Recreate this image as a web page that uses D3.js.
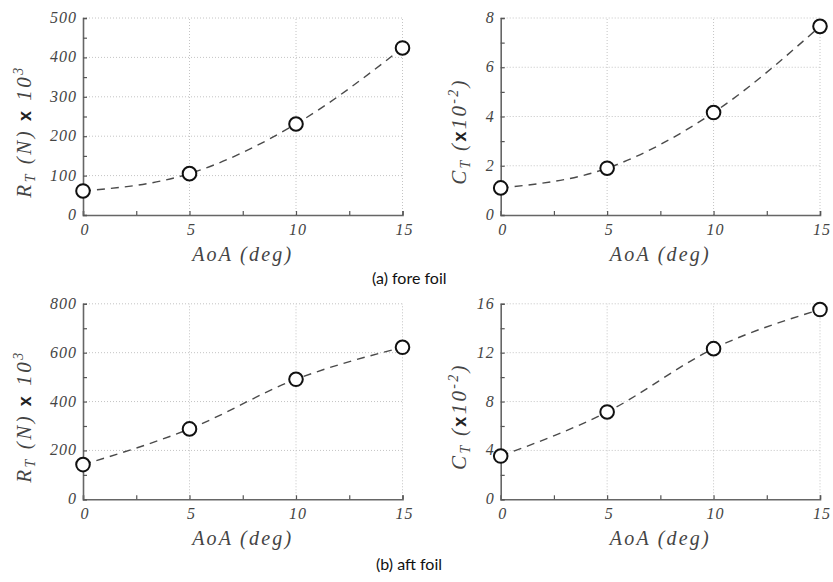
<!DOCTYPE html>
<html>
<head>
<meta charset="utf-8">
<script src="https://cdn.jsdelivr.net/npm/d3@7"></script>
<style>
  html, body { margin: 0; padding: 0; background: #fff; }
  svg { display: block; }
</style>
</head>
<body>
<svg id="chart" width="833" height="582"></svg>
<script>
// ---- data ----
const aoa = [0, 5, 10, 15];
const foreRT = [61, 105, 231, 424];
const foreCT = [1.1, 1.9, 4.16, 7.66];
const aftRT = [142, 288, 491, 622];
const aftCT = [3.54, 7.15, 12.33, 15.53];

const xTicks = [0, 5, 10, 15];
const xMinor = [2.5, 7.5, 12.5];
const rtForeTicks = [0, 100, 200, 300, 400, 500];
const ctForeTicks = [0, 2, 4, 6, 8];
const rtAftTicks = [0, 200, 400, 600, 800];
const ctAftTicks = [0, 4, 8, 12, 16];
const captions = ["(a) fore foil", "(b) aft foil"];

const svg = d3.select("#chart");
const SERIF = "Liberation Serif";

function serifText(sel, size, ls) {
  return sel.attr("font-family", SERIF).attr("font-style", "italic")
    .attr("font-size", size).attr("letter-spacing", ls);
}

function panel(cfg) {
  const x = d3.scaleLinear().domain([0, 15]).range([cfg.x0, cfg.x1]);
  const yMax = cfg.yTicks[cfg.yTicks.length - 1];
  const y = d3.scaleLinear().domain([0, yMax]).range([cfg.y0, cfg.y1]);
  const step = cfg.yTicks[1] - cfg.yTicks[0];
  const yMinor = cfg.yTicks.slice(0, -1).map(v => v + step / 2);
  const g = svg.append("g");

  // grid (dotted)
  g.selectAll(".gx").data(xTicks.filter(v => v > 0)).join("line")
    .attr("x1", d => x(d)).attr("x2", d => x(d))
    .attr("y1", y(0)).attr("y2", y(yMax))
    .attr("stroke", "#c4c4c4").attr("stroke-width", 1).attr("stroke-dasharray", "1,2");
  g.selectAll(".gy").data(cfg.yTicks.filter(v => v > 0)).join("line")
    .attr("y1", d => y(d)).attr("y2", d => y(d))
    .attr("x1", x(0)).attr("x2", x(15))
    .attr("stroke", "#c4c4c4").attr("stroke-width", 1).attr("stroke-dasharray", "1,2");

  // axes with inward ticks
  const ax = g.append("g").attr("transform", `translate(0,${y(0)})`)
    .call(d3.axisTop(x).tickValues(xTicks.concat(xMinor)).tickSize(4).tickFormat(""));
  const ay = g.append("g").attr("transform", `translate(${x(0)},0)`)
    .call(d3.axisRight(y).tickValues(cfg.yTicks.concat(yMinor)).tickSize(4).tickFormat(""));
  [ax, ay].forEach(a => {
    a.select(".domain").attr("stroke", "#666").attr("stroke-width", 1.6);
    a.selectAll(".tick line").attr("stroke", "#555").attr("stroke-width", 1.2);
  });

  // tick labels
  serifText(g.selectAll(".xl").data(xTicks).join("text"), 16, 1)
    .attr("x", d => x(d) + 2).attr("y", y(0) + 20)
    .attr("text-anchor", "middle")
    .attr("fill", "#444").text(d => d);
  serifText(g.selectAll(".yl").data(cfg.yTicks).join("text"), 16, 1)
    .attr("x", x(0) - 6).attr("y", d => y(d) + 5)
    .attr("text-anchor", "end")
    .attr("fill", "#444").text(d => d);

  // x label
  serifText(g.append("text"), 20, 2.2)
    .attr("x", (cfg.x0 + cfg.x1) / 2).attr("y", y(0) + 46)
    .attr("text-anchor", "middle")
    .attr("fill", "#444").text("AoA (deg)");

  // y label (rotated)
  const yl = serifText(g.append("text"), 21, cfg.ls)
    .attr("transform", `translate(${cfg.labelX},${(cfg.y0 + cfg.y1) / 2 + 15}) rotate(-90)`)
    .attr("text-anchor", "middle")
    .attr("fill", "#444");
  cfg.label.forEach(p => {
    const t = yl.append("tspan").text(p.t);
    if (p.dy) t.attr("dy", p.dy);
    if (p.size) t.attr("font-size", p.size);
    if (p.bold) t.attr("font-family", "Liberation Sans").attr("font-weight", "bold")
      .attr("font-style", "normal").attr("fill", "#222");
  });

  // dashed curve
  const pts = aoa.map((a, i) => [x(a), y(cfg.values[i])]);
  g.append("path")
    .attr("d", d3.line().curve(d3.curveMonotoneX)(pts))
    .attr("fill", "none").attr("stroke", "#4a4a4a").attr("stroke-width", 1.4)
    .attr("stroke-dasharray", "8,6");

  // markers
  g.selectAll(".m").data(pts).join("circle")
    .attr("cx", d => d[0]).attr("cy", d => d[1]).attr("r", 6.8)
    .attr("fill", "#fff").attr("stroke", "#111").attr("stroke-width", 2);
}

const rtLabel = [
  { t: "R" }, { t: "T", size: 14, dy: 4 }, { t: " (N) ", dy: -4 },
  { t: "x", bold: true, size: 18 }, { t: " 10" }, { t: "3", size: 14, dy: -8 }
];
const ctLabel = [
  { t: "C" }, { t: "T", size: 14, dy: 4 }, { t: " (", dy: -4 },
  { t: "x", bold: true, size: 18 }, { t: "10" }, { t: "-2", size: 14, dy: -8 }, { t: ")", dy: 8 }
];

panel({ x0: 83, x1: 402.5, y0: 215, y1: 18, yTicks: rtForeTicks, values: foreRT, labelX: 31, label: rtLabel, ls: 2.5 });
panel({ x0: 500.7, x1: 820, y0: 215, y1: 18, yTicks: ctForeTicks, values: foreCT, labelX: 466, label: ctLabel, ls: 2.3 });
panel({ x0: 83, x1: 402.5, y0: 499.3, y1: 303.8, yTicks: rtAftTicks, values: aftRT, labelX: 31, label: rtLabel, ls: 2.5 });
panel({ x0: 500.7, x1: 820, y0: 499.3, y1: 303.8, yTicks: ctAftTicks, values: aftCT, labelX: 466, label: ctLabel, ls: 2.3 });

// captions
svg.append("text").attr("x", 372).attr("y", 284)
  .attr("font-family", "Lato").attr("font-size", 16)
  .attr("fill", "#111").text(captions[0]);
svg.append("text").attr("x", 376).attr("y", 570)
  .attr("font-family", "Lato").attr("font-size", 16)
  .attr("fill", "#111").text(captions[1]);
</script>
</body>
</html>
